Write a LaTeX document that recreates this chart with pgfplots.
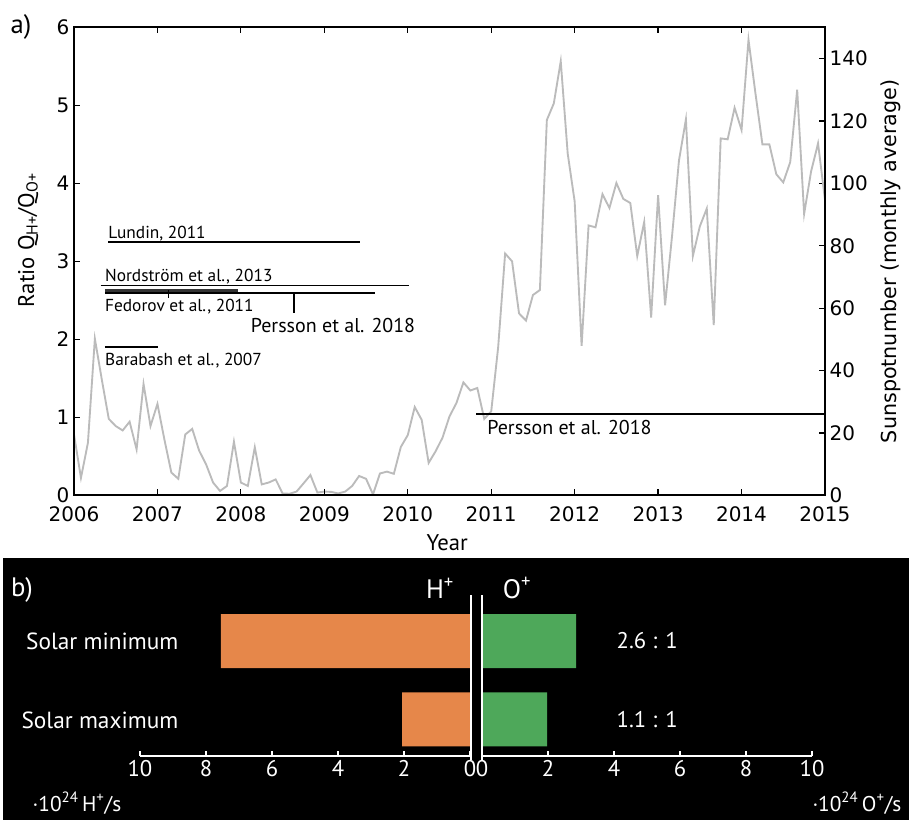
\documentclass[border=0pt]{standalone}
\usepackage{pgfplots}
\pgfplotsset{compat=1.18}
\usepackage{pgfplotstable}
\usepackage{fontspec}
\setmainfont{PT Sans}
\newfontfamily\dejavu{DejaVu Sans}
\definecolor{spot}{HTML}{BBBBBB}
\definecolor{horange}{HTML}{E6874A}
\definecolor{ogreen}{HTML}{4EA85A}
\pgfplotstableread{
year ssn
2006.0000 19.5
2006.0833 5.6
2006.1667 16.8
2006.2500 50.2
2006.3333 37.1
2006.4167 24.5
2006.5000 22.2
2006.5833 20.8
2006.6667 23.6
2006.7500 14.7
2006.8333 35.7
2006.9167 22.2
2007.0000 29.3
2007.0833 17.9
2007.1667 7.3
2007.2500 5.3
2007.3333 19.5
2007.4167 21.3
2007.5000 14.3
2007.5833 9.9
2007.6667 4.1
2007.7500 1.4
2007.8333 3.0
2007.9167 17.2
2008.0000 4.1
2008.0833 3.0
2008.1667 15.4
2008.2500 3.5
2008.3333 4.1
2008.4167 5.1
2008.5000 0.6
2008.5833 0.5
2008.6667 1.2
2008.7500 3.8
2008.8333 6.5
2008.9167 0.9
2009.0000 1.2
2009.0833 1.1
2009.1667 0.6
2009.2500 1.2
2009.3333 3.0
2009.4167 6.2
2009.5000 5.3
2009.5833 0.3
2009.6667 7.0
2009.7500 7.6
2009.8333 6.9
2009.9167 15.5
2010.0000 19.3
2010.0833 28.3
2010.1667 24.2
2010.2500 10.4
2010.3333 14.1
2010.4167 18.5
2010.5000 25.3
2010.5833 29.6
2010.6667 36.2
2010.7500 33.6
2010.8333 34.4
2010.9167 24.5
2011.0000 26.9
2011.0833 47.5
2011.1667 77.5
2011.2500 75.0
2011.3333 58.3
2011.4167 56.0
2011.5000 64.2
2011.5833 65.8
2011.6667 120.3
2011.7500 125.6
2011.8333 139.1
2011.9167 109.5
2012.0000 94.2
2012.0833 47.9
2012.1667 86.5
2012.2500 85.9
2012.3333 96.5
2012.4167 92.1
2012.5000 100.1
2012.5833 95.0
2012.6667 93.7
2012.7500 76.7
2012.8333 87.6
2012.9167 57.0
2013.0000 96.2
2013.0833 60.9
2013.1667 83.0
2013.2500 107.3
2013.3333 120.5
2013.4167 76.7
2013.5000 86.2
2013.5833 91.9
2013.6667 54.6
2013.7500 114.4
2013.8333 114.1
2013.9167 124.2
2014.0000 117.1
2014.0833 146.0
2014.1667 128.8
2014.2500 112.5
2014.3333 112.5
2014.4167 102.9
2014.5000 100.3
2014.5833 106.8
2014.6667 130.0
2014.7500 90.2
2014.8333 103.8
2014.9167 112.8
2015.0000 94.7
}\sunspots
\newcommand\smalllab{\fontsize{13}{15}\selectfont}
\newcommand\biglab{\fontsize{15}{18}\selectfont}
\begin{document}
\begin{tikzpicture}
% panel b background
\begin{scope}[x=0.75pt,y=0.75pt]
\fill[black] (3,0) rectangle (909,262);
\end{scope}
% ---------- panel a: sunspot axis (right) ----------
\begin{axis}[
  at={(55.5pt,243.5pt)}, anchor=south west, scale only axis,
  width=563.25pt, height=351pt,
  xmin=2006, xmax=2015, ymin=0, ymax=150,
  axis x line=none, axis y line*=right,
  ytick={0,20,...,140},
  tick align=inside, major tick length=4.5pt,
  y axis line style={line width=1.5pt, -},
  ytick style={line width=0.9pt, black},
  yticklabel style={font=\dejavu\fontsize{15}{18}\selectfont},
  ylabel={Sunspotnumber (monthly average)},
  ylabel style={font=\dejavu\fontsize{15.5}{18}\selectfont, at={(axis description cs:1.088,0.5)}, anchor=center},
  /pgf/number format/assume math mode=true,
]
\addplot[spot, line width=1.4pt, no markers] table[x=year,y=ssn]{\sunspots};
\end{axis}
% ---------- panel a: ratio axis ----------
\begin{axis}[
  at={(55.5pt,243.5pt)}, anchor=south west, scale only axis,
  width=563.25pt, height=351pt,
  xmin=2006, xmax=2015, ymin=0, ymax=6,
  xtick={2006,...,2015}, ytick={0,...,6},
  xtick pos=both, ytick pos=left,
  tick align=inside, major tick length=4.5pt,
  axis line style={line width=1.5pt},
  tick style={line width=0.9pt, black},
  ticklabel style={font=\dejavu\fontsize{15}{18}\selectfont},
  xticklabel style={yshift=-5pt},
  /pgf/number format/assume math mode=true,
  /pgf/number format/1000 sep={},
  xlabel={Year},
  xlabel style={font=\fontsize{17}{20}\selectfont, at={(axis description cs:0.497,-0.102)}, anchor=center},
  ylabel={Ratio Q\textsubscript{H+}/Q\textsubscript{O+}},
  ylabel style={font=\fontsize{17}{20}\selectfont, at={(axis description cs:-0.061,0.545)}, anchor=center},
  clip=false,
]
% Lundin 2011
\addplot[black, line width=1.4pt, no markers] coordinates {(2006.41,3.25) (2009.43,3.25)};
\node[anchor=base west, inner sep=0pt, font=\smalllab] at (axis cs:2006.41,3.29) {Lundin, 2011};
% Nordstrom 2013
\addplot[black, line width=1.4pt, no markers] coordinates {(2006.32,2.69) (2010.02,2.69)};
\node[anchor=base west, inner sep=0pt, font=\smalllab] at (axis cs:2006.37,2.74) {Nordström et al., 2013};
% Fedorov 2011
\addplot[black!80, line width=2pt, no markers] coordinates {(2006.37,2.63) (2007.96,2.63)};
\addplot[black, line width=0.8pt, no markers] coordinates {(2007.13,2.63) (2007.13,2.53)};
\node[anchor=base west, inner sep=0pt, font=\smalllab] at (axis cs:2006.37,2.354) {Fedorov et al., 2011};
% Persson 2018 (min)
\addplot[black, line width=1.2pt, no markers] coordinates {(2006.37,2.594) (2009.61,2.594)};
\addplot[black, line width=1.2pt, no markers] coordinates {(2008.64,2.594) (2008.64,2.337)};
\node[anchor=base west, inner sep=0pt, font=\biglab] at (axis cs:2008.116,2.09) {Persson et al. 2018};
% Barabash 2007
\addplot[black, line width=1.4pt, no markers] coordinates {(2006.37,1.897) (2007.01,1.897)};
\node[anchor=base west, inner sep=0pt, font=\smalllab] at (axis cs:2006.37,1.67) {Barabash et al., 2007};
% Persson 2018 (max)
\addplot[black, line width=1.4pt, no markers] coordinates {(2010.82,1.042) (2015,1.042)};
\node[anchor=base west, inner sep=0pt, font=\biglab] at (axis cs:2010.95,0.782) {Persson et al. 2018};
\end{axis}
% ---------- panel b: H+ (left, reversed) ----------
\begin{axis}[
  at={(105pt,48.2pt)}, anchor=south west, scale only axis,
  width=247.5pt, height=120.5pt,
  x dir=reverse, xmin=0, xmax=10, ymin=0.535, ymax=2.587,
  axis x line=bottom, axis y line=none,
  xtick={0,2,...,10},
  x axis line style={white, line width=1.2pt, -},
  xtick style={white, line width=1pt},
  tick align=inside, major tick length=3.75pt,
  xticklabel style={white, font=\fontsize{17}{20}\selectfont},
  /pgf/number format/assume math mode=true,
]
\addplot[xbar, bar width=40.5pt, fill=horange, draw=none] coordinates {(7.55,2) (2.06,1)};
\end{axis}
% ---------- panel b: O+ (right) ----------
\begin{axis}[
  at={(361.5pt,48.2pt)}, anchor=south west, scale only axis,
  width=247.5pt, height=120.5pt,
  xmin=0, xmax=10, ymin=0.535, ymax=2.587,
  axis x line=bottom, axis y line=none,
  xtick={0,2,...,10},
  x axis line style={white, line width=1.2pt, -},
  xtick style={white, line width=1pt},
  tick align=inside, major tick length=3.75pt,
  xticklabel style={white, font=\fontsize{17}{20}\selectfont},
  /pgf/number format/assume math mode=true,
]
\addplot[xbar, bar width=40.5pt, fill=ogreen, draw=none] coordinates {(2.85,2) (1.97,1)};
\end{axis}
% ---------- free texts ----------
\begin{scope}[x=0.75pt,y=0.75pt]
\node[font=\fontsize{20}{24}\selectfont] at (21,793) {a)};
\node[white, font=\fontsize{20}{24}\selectfont] at (22,230) {b)};
\draw[white, line width=1.5pt] (470.5,60) -- (470.5,225);
\draw[white, line width=1.5pt] (481.5,60) -- (481.5,225);
\node[white, anchor=east, font=\fontsize{17.5}{20}\selectfont] at (183,179) {Solar minimum};
\node[white, anchor=east, font=\fontsize{17.5}{20}\selectfont] at (183,100) {Solar maximum};
\node[white, anchor=west, font=\fontsize{17}{20}\selectfont] at (612,179) {2.6 : 1};
\node[white, anchor=west, font=\fontsize{17}{20}\selectfont] at (612,100) {1.1 : 1};
\node[white, font=\fontsize{20}{24}\selectfont] at (440,232) {H\textsuperscript{+}};
\node[white, font=\fontsize{20}{24}\selectfont] at (517,232) {O\textsuperscript{+}};
\node[white, anchor=west, font=\fontsize{16}{19}\selectfont] at (28,17) {·10\textsuperscript{24}\,H\textsuperscript{+}/s};
\node[white, anchor=east, font=\fontsize{16}{19}\selectfont] at (906,17) {·10\textsuperscript{24}\,O\textsuperscript{+}/s};
\pgfresetboundingbox
\path[use as bounding box] (0,0) rectangle (909,820);
\end{scope}
\end{tikzpicture}
\end{document}
